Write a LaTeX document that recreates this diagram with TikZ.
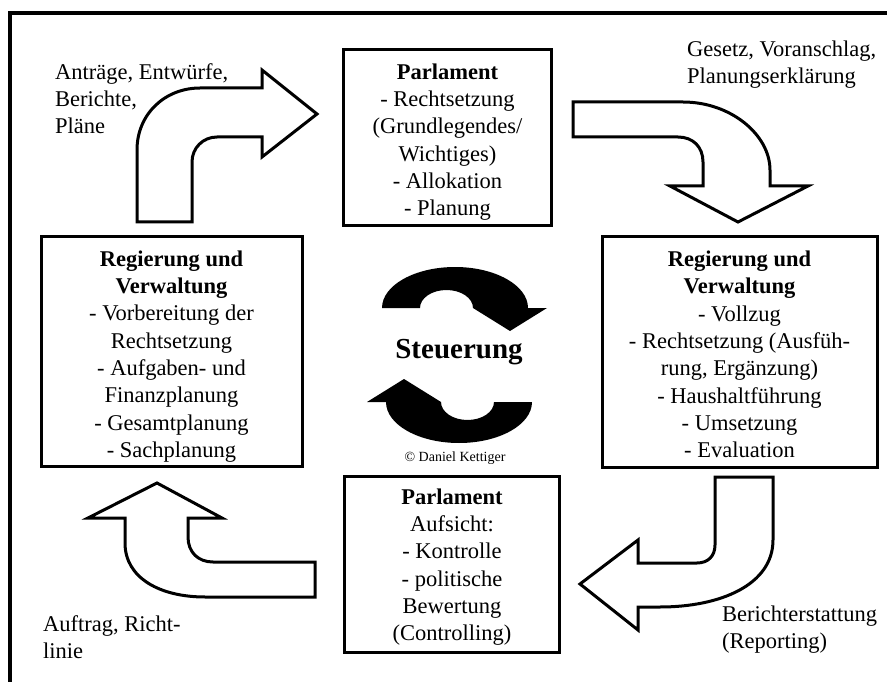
\documentclass[tikz,border=0pt]{standalone}
\usepackage{fontspec}
\setmainfont{Liberation Serif}
\begin{document}
\begin{tikzpicture}[x=1pt,y=-1pt,
  boxframe/.style={draw, line width=3pt, inner sep=0pt},
  boxtext/.style={align=center, inner sep=0pt, font=\fontsize{22.5}{27.3}\selectfont},
  lbl/.style={align=left, inner sep=0pt, anchor=north west, font=\fontsize{22.5}{27}\selectfont},
  barrow/.style={draw, line width=3pt, fill=white, line join=miter},
  circarrow/.style={fill=black},
  frameline/.style={line width=4pt}]
\useasboundingbox[fill=white] (0,0) rectangle (887,682);
\draw[frameline] (10,682) -- (10,13) -- (887,13);

% boxes
\node[boxframe, minimum width=208, minimum height=176] (ptop) at (447.5,138) {};
\node[boxtext] (ptopt) at ([yshift=-4pt]ptop.center)
  {\textbf{Parlament}\\- Rechtsetzung\\(Grundlegendes/\\Wichtiges)\\- Allokation\\- Planung};
\node[boxframe, minimum width=261, minimum height=230] (rleft) at (171.5,351.5) {};
\node[boxtext] (rleftt) at ([yshift=-5pt]rleft.center)
  {\textbf{Regierung und}\\\textbf{Verwaltung}\\- Vorbereitung der\\Rechtsetzung\\- Aufgaben- und\\Finanzplanung\\- Gesamtplanung\\- Sachplanung};
\node[boxframe, minimum width=275, minimum height=231] (rright) at (739.5,351.5) {};
\node[boxtext] (rrightt) at ([yshift=-3pt]rright.center)
  {\textbf{Regierung und}\\\textbf{Verwaltung}\\- Vollzug\\- Rechtsetzung (Ausfüh-\\rung, Ergänzung)\\- Haushaltführung\\- Umsetzung\\- Evaluation};
\node[boxframe, minimum width=215, minimum height=176] (pbot) at (452,564) {};
\node[boxtext] (pbott) at ([yshift=-3pt]pbot.center)
  {\textbf{Parlament}\\Aufsicht:\\- Kontrolle\\- politische\\Bewertung\\(Controlling)};

% labels
\node[lbl] (l1) at (55,63) {Anträge, Entwürfe,\\Berichte,\\Pläne};
\node[lbl] (l2) at (687,41) {Gesetz, Voranschlag,\\Planungserklärung};
\node[lbl] (l3) at (722,606) {Berichterstattung\\(Reporting)};
\node[lbl] (l4) at (43,615) {Auftrag, Richt-\\linie};

% block arrows
\draw[barrow] (137,222) -- (137,150) .. controls (137,114) and (165,88) .. (200,88)
  -- (262,88) -- (262,70) -- (317,114) -- (262,157) -- (262,137) -- (217,137)
  .. controls (203,137) and (192,148) .. (192,162) -- (192,222) -- cycle;
\draw[barrow] (573,102) -- (683,102) .. controls (731,102) and (770,135) .. (770,170)
  -- (770,186) -- (808,186) -- (738,222) -- (670,186) -- (703,186) -- (703,162)
  .. controls (703,147) and (693,137) .. (678,137) -- (573,137) -- cycle;
\draw[barrow] (715,477) -- (773,477) -- (773,540) .. controls (773,585) and (720,607) .. (660,607)
  -- (638,607) -- (638,630) -- (580,584) -- (638,540) -- (638,563) -- (697,563)
  .. controls (708,563) and (715,556) .. (715,545) -- cycle;
\draw[barrow] (315,562) -- (213,562) .. controls (198,562) and (188,552) .. (188,537)
  -- (188,518) -- (222,518) -- (157,483) -- (88,518) -- (125,518) -- (125,543)
  .. controls (125,578) and (160,597) .. (205,597) -- (315,597) -- cycle;

% central circular arrows
\begin{scope}[shift={(457,355)}]
  \fill[circarrow] (-75,-47) arc[start angle=180, end angle=360, x radius=73, y radius=41]
    -- (90,-47) -- (53,-24) -- (16,-47)
    arc[start angle=0, end angle=-180, x radius=26.5, y radius=18] -- cycle;
\end{scope}
\begin{scope}[shift={(457,355)}, rotate=180]
  \fill[circarrow] (-75,-47) arc[start angle=180, end angle=360, x radius=73, y radius=41]
    -- (90,-47) -- (53,-24) -- (16,-47)
    arc[start angle=0, end angle=-180, x radius=26.5, y radius=18] -- cycle;
\end{scope}

\node[font=\fontsize{29}{30}\selectfont\bfseries] (steu) at (459,352) {Steuerung};
\node[font=\fontsize{14}{16}\selectfont, inner sep=0pt] (copy) at (455,458) {© Daniel Kettiger};
\end{tikzpicture}
\end{document}
